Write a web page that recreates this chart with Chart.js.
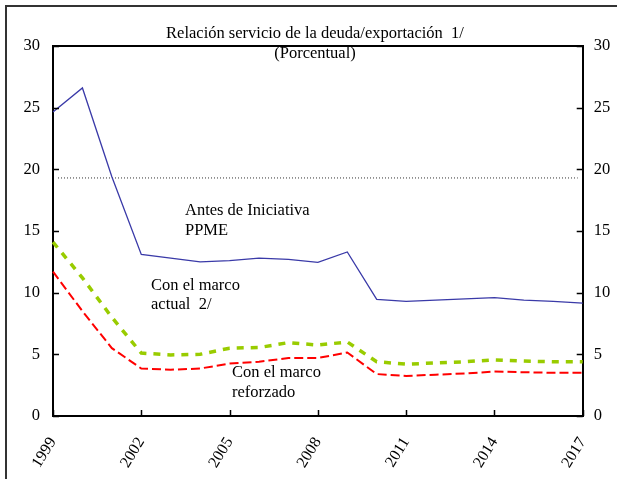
<!DOCTYPE html>
<html><head><meta charset="utf-8">
<script src="https://cdn.jsdelivr.net/npm/chart.js@4"></script>
<style>html,body{margin:0;padding:0;background:#fff}#wrap{width:617px;height:479px;position:relative}</style>
</head><body><div id="wrap"><canvas id="c" width="617" height="479"></canvas></div>
<script>
const years = ['1999','2000','2001','2002','2003','2004','2005','2006','2007','2008','2009','2010','2011','2012','2013','2014','2015','2016','2017'];
const antesPPME = [24.65, 26.6, 19.4, 13.1, 12.8, 12.5, 12.6, 12.8, 12.7, 12.45, 13.3, 9.45, 9.3, 9.4, 9.5, 9.6, 9.4, 9.3, 9.15];
const marcoActual = [14.1, 11.2, 8.0, 5.1, 4.95, 5.0, 5.5, 5.55, 5.95, 5.75, 6.0, 4.4, 4.2, 4.3, 4.4, 4.55, 4.45, 4.4, 4.4];
const marcoReforzado = [11.7, 8.5, 5.5, 3.85, 3.75, 3.85, 4.25, 4.4, 4.7, 4.7, 5.15, 3.4, 3.25, 3.35, 3.45, 3.6, 3.55, 3.5, 3.5];
const yTicks = [0, 5, 10, 15, 20, 25, 30];
const xTickYears = ['1999','2002','2005','2008','2011','2014','2017'];
const umbral = 19.3;
const titleLines = ['Relación servicio de la deuda/exportación  1/', '(Porcentual)'];
const labelAntes = ['Antes de Iniciativa', 'PPME'];
const labelActual = ['Con el marco', 'actual  2/'];
const labelReforzado = ['Con el marco', 'reforzado'];

const SERIF = '"Liberation Serif", "Times New Roman", serif';

const decor = {
  id: 'decor',
  beforeDraw(chart) {
    const ctx = chart.ctx;
    ctx.save();
    ctx.fillStyle = '#fff';
    ctx.fillRect(0, 0, chart.width, chart.height);
    ctx.strokeStyle = '#333';
    ctx.lineWidth = 2;
    ctx.beginPath();
    ctx.moveTo(6, chart.height);
    ctx.lineTo(6, 6);
    ctx.lineTo(chart.width, 6);
    ctx.stroke();
    ctx.restore();
  },
  beforeDatasetsDraw(chart) {
    const ctx = chart.ctx, ys = chart.scales.y, xs = chart.scales.x;
    const yp = ys.getPixelForValue(umbral);
    ctx.save();
    ctx.strokeStyle = '#333';
    ctx.lineWidth = 1;
    ctx.setLineDash([1, 2]);
    ctx.beginPath();
    ctx.moveTo(xs.getPixelForValue(0) + 5, yp);
    ctx.lineTo(xs.getPixelForValue(years.length - 1) - 5, yp);
    ctx.stroke();
    ctx.restore();
  },
  afterDraw(chart) {
    const ctx = chart.ctx, a = chart.chartArea, ys = chart.scales.y, xs = chart.scales.x;
    ctx.save();
    ctx.strokeStyle = '#000';
    ctx.lineWidth = 2;
    ctx.beginPath();
    ctx.moveTo(a.left - 1, a.top);
    ctx.lineTo(a.right + 1, a.top);
    ctx.stroke();
    ctx.lineWidth = 1.5;
    ctx.beginPath();
    yTicks.forEach(v => {
      const p = Math.round(ys.getPixelForValue(v)) + 0.5;
      ctx.moveTo(a.left, p); ctx.lineTo(a.left + 6, p);
      ctx.moveTo(a.right, p); ctx.lineTo(a.right - 6, p);
    });
    xTickYears.forEach(l => {
      const p = Math.round(xs.getPixelForValue(years.indexOf(l))) + 0.5;
      ctx.moveTo(p, a.bottom); ctx.lineTo(p, a.bottom - 6);
    });
    ctx.stroke();
    ctx.fillStyle = '#000';
    ctx.font = '16.5px ' + SERIF;
    ctx.textBaseline = 'middle';
    ctx.textAlign = 'center';
    ctx.fillText(titleLines[0], 315, 34);
    ctx.fillText(titleLines[1], 315, 54);
    ctx.textAlign = 'left';
    ctx.fillText(labelAntes[0], 185, 211);
    ctx.fillText(labelAntes[1], 185, 231);
    ctx.fillText(labelActual[0], 151, 286);
    ctx.fillText(labelActual[1], 151, 305);
    ctx.fillText(labelReforzado[0], 232, 373);
    ctx.fillText(labelReforzado[1], 232, 393);
    ctx.restore();
  }
};

const yCommon = {
  min: 0, max: 30,
  grid: { display: false, drawTicks: false },
  border: { display: true, color: '#000', width: 2 },
};

new Chart(document.getElementById('c'), {
  type: 'line',
  data: {
    labels: years,
    datasets: [
      { label: 'Antes de Iniciativa PPME', data: antesPPME, borderColor: '#3a3aa8', borderWidth: 1.3, pointRadius: 0, tension: 0, fill: false },
      { label: 'Con el marco actual', data: marcoActual, borderColor: '#99cc00', borderWidth: 3.5, borderDash: [7, 7], pointRadius: 0, tension: 0, fill: false },
      { label: 'Con el marco reforzado', data: marcoReforzado, borderColor: '#ff0000', borderWidth: 2, borderDash: [9, 4], pointRadius: 0, tension: 0, fill: false }
    ]
  },
  options: {
    responsive: false,
    animation: false,
    devicePixelRatio: 1,
    layout: { padding: { top: 46, left: 0, right: 0, bottom: 0 } },
    plugins: { legend: { display: false }, tooltip: { enabled: false }, title: { display: false } },
    scales: {
      x: {
        type: 'category',
        offset: false,
        grid: { display: false, drawTicks: false },
        border: { display: true, color: '#000', width: 2 },
        ticks: {
          autoSkip: false, maxRotation: 58, minRotation: 58, padding: 18,
          color: '#000', font: { family: SERIF, size: 16 },
          callback: (v, i) => xTickYears.includes(years[i]) ? years[i] : ''
        },
        afterFit: s => { s.height = 63; }
      },
      y: Object.assign({}, yCommon, {
        position: 'left',
        ticks: { stepSize: 5, padding: 13, color: '#000', font: { family: SERIF, size: 16.5 } },
        afterFit: s => { s.width = 53; }
      }),
      y2: Object.assign({}, yCommon, {
        position: 'right',
        ticks: { stepSize: 5, padding: 11, color: '#000', font: { family: SERIF, size: 16.5 } },
        afterFit: s => { s.width = 33; }
      })
    }
  },
  plugins: [decor]
});
</script></body></html>
